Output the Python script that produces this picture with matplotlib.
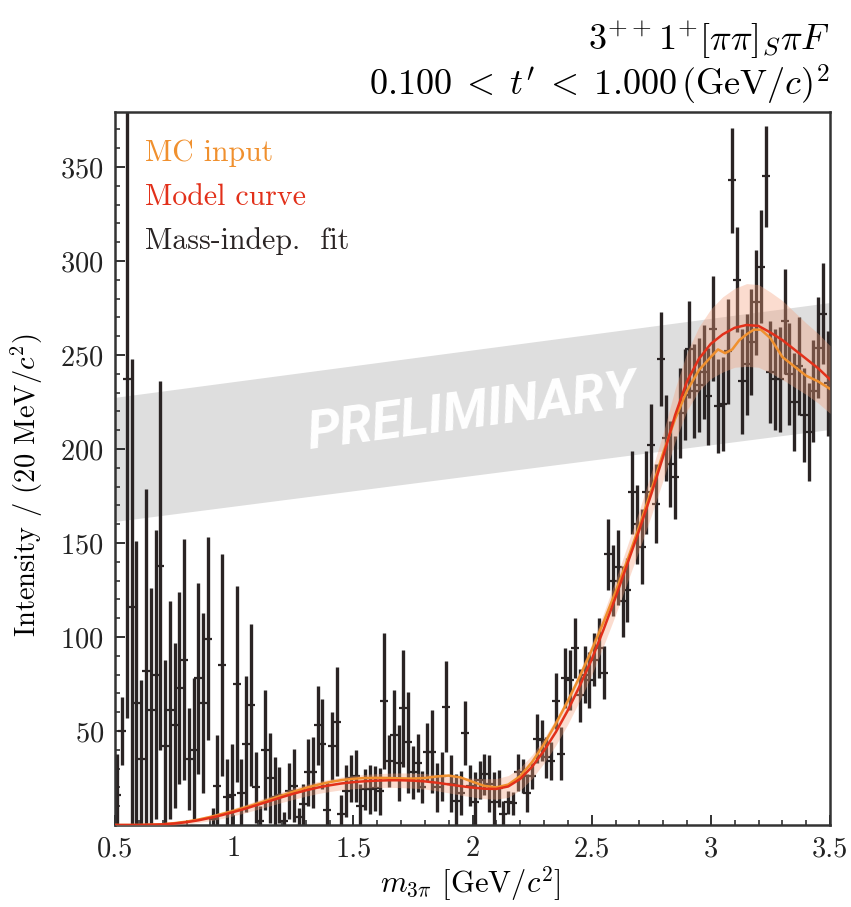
import matplotlib
matplotlib.use("Agg")
import matplotlib.pyplot as plt
from matplotlib.patches import Polygon
from matplotlib.ticker import MultipleLocator, FuncFormatter
import numpy as np

# ---------------- data ----------------
bin_start = 0.51
bin_width = 0.02
intensity = [
    16, 50, 237, 116, 65, 35, 82, 61, 80, 138,
    42, 61, 53, 73, 88, 35, 40, 78, 65, 99,
    3, 21, 85, 15, 16, 75, 17, 43, 64, 20,
    2, 40, 25, 15, 16, 2, 18, 21, 4, 11,
    28, 28, 53, 43, 8, 42, 55, 6, 18, 25,
    26, 10, 19, 19, 19.5, 18, 66, 34, 48, 33,
    62, 44, 28, 33, 20, 39, 39, 20, 26, 63,
    22, 13, 17, 49, 21, 12, 24, 27, 22, 12,
    19.5, 6, 12, 11.5, 28, 26, 17, 26, 46, 45,
    36, 34, 66, 38, 78, 77, 94, 69, 80, 77,
    88, 94, 81, 144, 130, 137, 119, 125, 177, 160,
    148, 177, 202, 171, 248, 206, 192, 185, 219, 229,
    253, 231, 234, 241, 228, 264, 223, 224, 252, 343,
    290, 236, 245, 257, 278, 297, 345, 241, 237, 237,
    268, 240, 225, 244, 218, 209, 231, 254, 272, 235,
]
intensity_err = [
    22, 18, 180, 132, 86, 42, 97, 65, 77, 98,
    46, 58, 44, 51, 64, 27, 38, 51, 48, 54,
    6, 27, 59, 20, 27, 52, 18, 36, 43, 19,
    8, 32, 24, 21, 15, 5, 15, 19.5, 5, 11,
    18, 19, 21, 24, 15, 18, 29, 10, 14, 12.5,
    14, 12, 11, 13, 12, 12.5, 36, 14, 24, 20,
    31, 27, 14, 15.5, 8.5, 15.5, 22, 13, 13, 24,
    15, 14, 11.5, 17, 11, 16, 10, 11, 15, 16,
    10, 7, 6, 6, 10, 9, 10, 7, 13, 11,
    11, 10, 15, 14, 16, 16, 16, 14, 15, 15,
    14, 16, 14, 19, 19, 20, 19, 17, 22, 21,
    20, 22, 22, 21, 25, 23, 23, 22, 24, 24,
    26, 25, 25, 25, 26, 28, 25, 25, 28, 28,
    28, 28, 27, 28, 28, 30, 27, 27, 27, 28,
    28, 27, 26, 26, 25, 26, 27, 27, 27, 28,
]

model_x = [0.50, 0.60, 0.70, 0.75, 0.80, 0.85, 0.90, 0.95, 1.00, 1.05,
           1.10, 1.15, 1.20, 1.25, 1.30, 1.35, 1.40, 1.45, 1.50, 1.55,
           1.60, 1.65, 1.70, 1.75, 1.80, 1.85, 1.90, 1.95, 2.00, 2.05,
           2.10, 2.15, 2.20, 2.25, 2.30, 2.35, 2.40, 2.45, 2.50, 2.55,
           2.60, 2.65, 2.70, 2.75, 2.80, 2.85, 2.90, 2.95, 3.00, 3.05,
           3.10, 3.15, 3.20, 3.25, 3.30, 3.35, 3.40, 3.45, 3.50]
model_y = [0, 0, 0.3, 0.8, 1.5, 2.5, 3.8, 5.3, 7.0, 8.8,
           10.8, 12.8, 14.8, 16.7, 18.4, 19.9, 21.1, 22.1, 22.8, 23.3,
           23.6, 23.8, 23.8, 23.6, 23.2, 22.5, 21.6, 20.7, 19.9, 19.3,
           19.2, 20.5, 24.5, 31, 39.5, 49.5, 61, 74, 88, 104,
           121, 139, 157, 176, 196, 218, 236, 248, 256, 261,
           264.5, 266, 265.5, 262, 258, 253, 248, 243, 237]
model_band = [0.3, 0.4, 0.6, 0.8, 1.0, 1.2, 1.5, 1.8, 2.0, 2.2,
              2.4, 2.6, 2.8, 3.0, 3.1, 3.2, 3.3, 3.4, 3.5, 3.6,
              3.7, 3.8, 3.9, 4.0, 4.1, 4.3, 4.5, 4.8, 5.0, 5.3,
              5.5, 5.8, 6.0, 6.3, 6.6, 7.0, 7.4, 7.8, 8.2, 8.7,
              9.2, 9.8, 10.5, 11.5, 12.5, 14, 15.5, 17, 18.5, 20,
              21, 22, 22, 21.5, 21, 20, 19, 18.5, 18]

mc_x = [0.50, 0.60, 0.70, 0.75, 0.80, 0.85, 0.90, 0.95, 1.00, 1.05,
        1.10, 1.15, 1.20, 1.25, 1.30, 1.35, 1.40, 1.45, 1.50, 1.55,
        1.60, 1.65, 1.70, 1.75, 1.80, 1.85, 1.90, 1.95, 2.00, 2.05,
        2.10, 2.15, 2.20, 2.25, 2.30, 2.35, 2.40, 2.45, 2.50, 2.55,
        2.60, 2.65, 2.70, 2.75, 2.80, 2.85, 2.90, 2.95, 3.00, 3.03,
        3.06, 3.09, 3.12, 3.15, 3.18, 3.21, 3.25, 3.30, 3.35, 3.40,
        3.45, 3.50]
mc_y = [0, 0, 0.4, 1.0, 1.8, 2.9, 4.3, 5.9, 7.6, 9.5,
        11.5, 13.6, 15.7, 17.8, 19.7, 21.4, 22.8, 23.9, 24.6, 25.0,
        25.1, 25.0, 24.8, 24.7, 25.0, 25.8, 26.3, 25.3, 23.0, 20.8,
        20.0, 21.5, 26.0, 33.5, 43.0, 54, 66, 79, 93, 108,
        124, 141, 159, 178, 198, 216, 231, 242, 249, 253,
        251, 253, 258, 261, 263.5, 263.5, 259, 249, 244, 239,
        236, 232]

x_ticks = [0.5, 1.0, 1.5, 2.0, 2.5, 3.0, 3.5]
y_ticks = [50, 100, 150, 200, 250, 300, 350]

# ---------------- style ----------------
plt.rcParams['font.family'] = ['cmr10', 'DejaVu Serif']
plt.rcParams['mathtext.fontset'] = 'cm'
plt.rcParams['axes.unicode_minus'] = False
plt.rcParams['axes.formatter.use_mathtext'] = True

c_data = '#2a2424'
c_orange = '#f0902e'
c_red = '#e2301a'
c_band = '#f4a07c'

fig = plt.figure(figsize=(8.51, 9.07), dpi=100)
ax = fig.add_axes([115 / 851, 1 - 825 / 907, 715 / 851, 713 / 907])

x_bins = bin_start + bin_width * np.arange(len(intensity))

# watermark band
ax.add_patch(Polygon([(0, 0.425), (0, 0.599), (1, 0.732), (1, 0.554)],
                     closed=True, transform=ax.transAxes, facecolor='#dedede',
                     edgecolor='none', zorder=0.5))
ax.text(0.499, 0.578, 'PRELIMINARY', transform=ax.transAxes, rotation=7.5,
        rotation_mode='anchor', ha='center', va='center', color='white',
        fontsize=38, fontweight='bold', fontstyle='italic',
        family=['Roboto', 'DejaVu Sans'], zorder=0.6)

# data
ax.errorbar(x_bins, intensity, yerr=intensity_err, fmt='_', color=c_data,
            ecolor=c_data, elinewidth=2.4, markersize=6, mew=1.6,
            capsize=0, zorder=2)

# model band + curves
my = np.array(model_y)
mb = np.array(model_band)
ax.fill_between(model_x, my - mb, my + mb, color=c_band, alpha=0.36,
                linewidth=0, zorder=3)
ax.plot(mc_x, mc_y, color=c_orange, lw=1.8, zorder=4)
ax.plot(model_x, model_y, color=c_red, lw=1.8, zorder=5)

# legend texts
ax.text(0.042, 0.9425, 'MC input', transform=ax.transAxes, color=c_orange,
        fontsize=21.5, va='center', ha='left', zorder=6)
ax.text(0.042, 0.881, 'Model curve', transform=ax.transAxes, color=c_red,
        fontsize=21.5, va='center', ha='left', zorder=6)
ax.text(0.042, 0.819, 'Mass-indep.  fit', transform=ax.transAxes, color=c_data,
        fontsize=21.5, va='center', ha='left', zorder=6)

# axes
ax.set_xlim(0.5, 3.5)
ax.set_ylim(0, 379.3)
ax.set_xticks(x_ticks)
ax.set_yticks(y_ticks)
ax.xaxis.set_minor_locator(MultipleLocator(0.1))
ax.yaxis.set_minor_locator(MultipleLocator(10))
ax.xaxis.set_major_formatter(FuncFormatter(lambda v, p: f'{v:g}'))
ax.tick_params(which='both', direction='in', top=False, right=False,
               colors='#222222', labelsize=20.5)
ax.tick_params(which='major', length=7, width=1.3, pad=8)
ax.tick_params(which='minor', length=3.5, width=1.1)
for s in ax.spines.values():
    s.set_color('#333333')
    s.set_linewidth(1.8)

ax.set_xlabel(r'$m_{3\pi}$ [GeV/$c^2$]', fontsize=22)
ax.xaxis.set_label_coords(0.497, -0.055)
ax.set_ylabel(r'Intensity / (20 MeV/$c^2$)', fontsize=20.5)
ax.yaxis.set_label_coords(-0.098, 0.477)

fig.text(830 / 851, 1 - 50 / 907, r'$3^{++}1^{+}[\pi\pi]_{S}\pi F$',
         ha='right', va='baseline', fontsize=26)
fig.text(830 / 851, 1 - 96 / 907,
         r'$0.100\; <\; t^{\prime}\; <\; 1.000\,(\mathrm{GeV}/c)^{2}$',
         ha='right', va='baseline', fontsize=26)

fig.savefig('out.png', dpi=100)
